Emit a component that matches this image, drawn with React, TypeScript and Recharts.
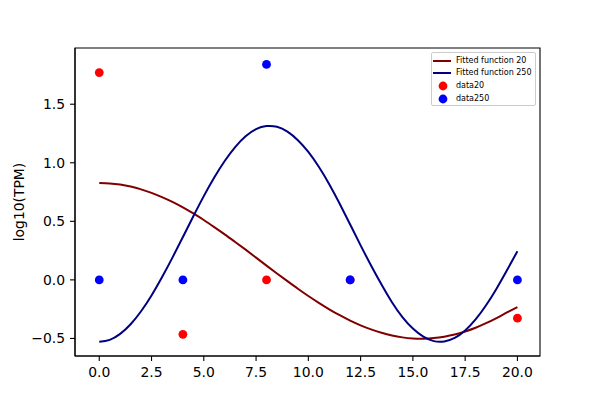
import React from 'react';
import {
  ComposedChart,
  Line,
  Scatter,
  XAxis,
  YAxis,
  ReferenceArea,
} from 'recharts';

if (typeof document !== 'undefined') {
  document.body.style.margin = '0';
}

// ---- data ----
const fitX = [
  0, 0.5, 1, 1.5, 2, 2.5, 3, 3.5, 4, 4.5, 5, 5.5, 6, 6.5, 7, 7.5, 8, 8.5, 9, 9.5,
  10, 10.5, 11, 11.5, 12, 12.5, 13, 13.5, 14, 14.5, 15, 15.5, 16, 16.5, 17, 17.5,
  18, 18.5, 19, 19.5, 20,
];
const fit20Y = [
  0.828, 0.824, 0.814, 0.797, 0.773, 0.743, 0.707, 0.666, 0.619, 0.567, 0.511,
  0.451, 0.389, 0.324, 0.258, 0.19, 0.122, 0.055, -0.011, -0.076, -0.138, -0.196,
  -0.251, -0.302, -0.348, -0.388, -0.423, -0.452, -0.475, -0.491, -0.5, -0.502,
  -0.497, -0.485, -0.467, -0.441, -0.409, -0.37, -0.326, -0.278, -0.232,
];
const fit250Y = [
  -0.529, -0.512, -0.461, -0.379, -0.268, -0.133, 0.022, 0.19, 0.366, 0.543,
  0.715, 0.874, 1.015, 1.134, 1.226, 1.287, 1.313, 1.307, 1.266, 1.193, 1.093,
  0.966, 0.817, 0.65, 0.473, 0.295, 0.123, -0.04, -0.191, -0.318, -0.416, -0.485,
  -0.523, -0.526, -0.496, -0.432, -0.338, -0.217, -0.075, 0.082, 0.245,
];
const dataX = [0, 4, 8, 12, 20];
const data20Y = [1.77, -0.465, 0.0, 0.0, -0.327];
const data250Y = [0.0, 0.0, 1.84, 0.0, 0.0];

const xTicks = [0, 2.5, 5, 7.5, 10, 12.5, 15, 17.5, 20];
const yTicks = [-0.5, 0, 0.5, 1, 1.5];
const xDomain: [number, number] = [-1.16, 21.08];
const yDomain: [number, number] = [-0.65, 1.98];

const seriesNames = ['Fitted function 20', 'Fitted function 250', 'data20', 'data250'];
const seriesColors = ['#800000', '#000080', '#ff0000', '#0000ff'];
const seriesKinds = ['line', 'line', 'dot', 'dot'];
const yLabel = 'log10(TPM)';

const fit20 = fitX.map((x, i) => ({ x, y: fit20Y[i] }));
const fit250 = fitX.map((x, i) => ({ x, y: fit250Y[i] }));
const pts20 = dataX.map((x, i) => ({ x, y: data20Y[i] }));
const pts250 = dataX.map((x, i) => ({ x, y: data250Y[i] }));

const FONT = 'DejaVu Sans, sans-serif';
const fmt = (v: number) => v.toFixed(1).replace('-', '\u2212');

const dot = (color: string) => (props: any) => (
  <circle cx={props.cx} cy={props.cy} r={4.4} fill={color} stroke="none" />
);

const legendRowY = [7.7, 19.7, 33.3, 46];

function LegendBox() {
  return (
    <div
      style={{
        position: 'absolute',
        left: 431,
        top: 52,
        width: 105,
        height: 54,
        border: '1px solid #cccccc',
        borderRadius: 2,
        background: 'rgba(255,255,255,0.8)',
        boxSizing: 'border-box',
        fontFamily: FONT,
        fontSize: 8,
        color: '#000',
      }}
    >
      {seriesNames.map((name, i) => (
        <div
          key={name}
          style={{
            position: 'absolute',
            left: 0,
            top: legendRowY[i] - 6,
            height: 12,
            display: 'flex',
            alignItems: 'center',
            whiteSpace: 'nowrap',
          }}
        >
          <svg width={24} height={12} style={{ display: 'block' }}>
            {seriesKinds[i] === 'line' ? (
              <line x1={1} x2={19} y1={6} y2={6} stroke={seriesColors[i]} strokeWidth={2} />
            ) : (
              <circle cx={11} cy={6} r={4.4} fill={seriesColors[i]} />
            )}
          </svg>
          <span style={{ lineHeight: '12px' }}>{name}</span>
        </div>
      ))}
    </div>
  );
}

export default function App() {
  return (
    <div style={{ position: 'relative', width: 600, height: 400, background: '#fff' }}>
      <ComposedChart
        width={600}
        height={400}
        margin={{ top: 48, right: 60, bottom: 14, left: 15 }}
      >
        <XAxis
          type="number"
          dataKey="x"
          domain={xDomain}
          ticks={xTicks}
          allowDataOverflow
          tickFormatter={fmt}
          height={30}
          tickSize={5}
          tickMargin={6}
          axisLine={{ stroke: '#000', strokeWidth: 1.1 }}
          tickLine={{ stroke: '#000', strokeWidth: 1.1 }}
          tick={{ fill: '#000', fontSize: 13.9, fontFamily: FONT }}
        />
        <YAxis
          type="number"
          dataKey="y"
          domain={yDomain}
          ticks={yTicks}
          allowDataOverflow
          tickFormatter={fmt}
          width={60}
          tickSize={5}
          tickMargin={5}
          axisLine={{ stroke: '#000', strokeWidth: 1.1 }}
          tickLine={{ stroke: '#000', strokeWidth: 1.1 }}
          tick={{ fill: '#000', fontSize: 13.9, fontFamily: FONT }}
          label={{
            content: () => (
              <text
                x={18.5}
                y={202}
                transform="rotate(-90 18.5 202)"
                textAnchor="middle"
                dominantBaseline="central"
                fontSize={13.9}
                fontFamily={FONT}
                fill="#000"
              >
                {yLabel}
              </text>
            ),
          }}
        />
        <ReferenceArea
          x1={xDomain[0]}
          x2={xDomain[1]}
          y1={yDomain[0]}
          y2={yDomain[1]}
          fill="none"
          fillOpacity={0}
          stroke="#000"
          strokeWidth={1.1}
          ifOverflow="visible"
        />
        <Line
          data={fit20}
          dataKey="y"
          type="natural"
          stroke={seriesColors[0]}
          strokeWidth={2}
          dot={false}
          isAnimationActive={false}
        />
        <Line
          data={fit250}
          dataKey="y"
          type="natural"
          stroke={seriesColors[1]}
          strokeWidth={2}
          dot={false}
          isAnimationActive={false}
        />
        <Scatter data={pts20} dataKey="y" shape={dot(seriesColors[2])} isAnimationActive={false} />
        <Scatter data={pts250} dataKey="y" shape={dot(seriesColors[3])} isAnimationActive={false} />
      </ComposedChart>
      <LegendBox />
    </div>
  );
}
